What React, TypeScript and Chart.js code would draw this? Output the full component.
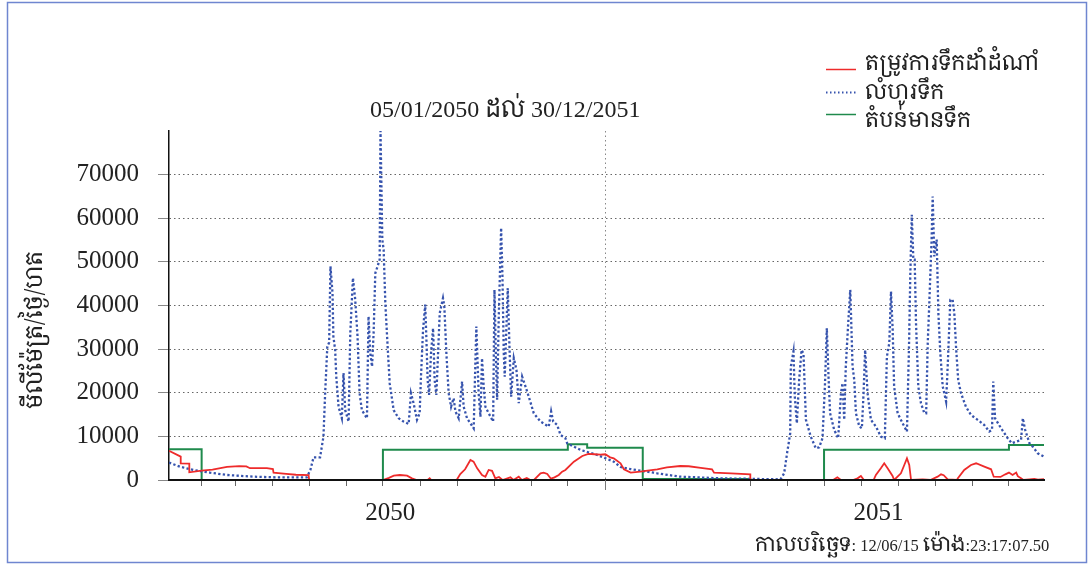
import React, { useEffect, useRef } from "react";
import { Chart, registerables } from "chart.js";

Chart.register(...registerables);

// ---- data (day offsets from 05/01/2050) ----
const demandDays = [
  0, 9.7, 9.7, 16.8, 16.8, 27, 36, 48, 58, 64, 67, 81, 86, 86.5, 97, 105, 115.5, 116,
  177, 182, 186, 191, 197, 201, 205, 214, 215.7, 217, 238, 241, 245, 249.4, 252, 255, 259, 261.8,
  264.5, 267.3, 270, 273, 276, 282.5, 285, 289.4, 292, 296, 299, 302, 307.4, 310, 313, 316, 319,
  322.5, 325.3, 328, 335, 342, 347, 352, 357, 361, 365, 368, 373.6, 376.4, 382, 390, 396, 404,
  412, 423, 430, 440, 449.3, 451, 465, 481, 481,
  549.5, 553, 556, 566, 569.7, 572.5, 575, 583, 584.9, 589, 591.8, 594.6, 598.7, 600, 605.6,
  608.4, 610.6, 612.5, 614, 623.6, 630, 636, 638.8, 641, 644.3, 652, 652.6, 658, 663.6, 667.8,
  674.6, 680.2, 682.4, 688, 692, 695, 698, 701, 702.3, 705, 707, 712, 716, 719, 724,
];
const demandValues = [
  6700, 5350, 3830, 3750, 1760, 2140, 2400, 3000, 3200, 3100, 2700, 2700, 2500, 1700, 1400, 1200, 1100, 0,
  0, 500, 990, 1140, 990, 380, 0, 0, 380, 0, 0, 1380, 2450, 4590, 4200, 2680, 1150, 760,
  2300, 2100, 380, 700, 0, 610, 0, 760, 0, 450, 0, 0, 1530, 1680, 1380, 300, 600,
  1150, 1900, 2300, 4200, 5510, 6000, 5900, 5800, 5900, 5200, 4970, 3830, 2450, 1680, 1900, 2150, 2450,
  2900, 3210, 3150, 2800, 2450, 1680, 1500, 1300, 0,
  0, 610, 0, 0, 380, 920, 0, 0, 1150, 2680, 3830, 2680, 920, 0, 1530,
  3440, 4970, 3440, 0, 150, 0, 760, 1300, 1100, 150, 0, 380, 2300, 3440, 3830,
  3060, 2450, 760, 700, 1300, 1700, 1150, 1700, 880, 380, 0, 150, 250, 100, 200,
];

const flowDays = [
  0, 9, 20, 34, 48, 70, 89, 114, 117, 119.6, 125, 127.8, 129.2, 131, 132.5, 133.6, 135.3, 136,
  137.5, 138.4, 140.3, 143, 144.4, 145.8, 148.6, 150, 152.2, 154.1, 156, 157.7, 159.6, 163.8, 165.1,
  166.5, 168, 169.3, 170.7, 172.6, 174.3, 175, 176.5, 177.6, 179, 180.9, 182.6, 185.9, 190, 194,
  198.3, 200.2, 202.4, 205.2, 207.4, 208.5, 210.2, 212, 213, 214, 215.2, 216.8, 218.5, 219.8, 221.2,
  222.3, 224, 226.7, 227.8, 229.5, 231.4, 233.4, 235.5, 237, 239.7, 242.5, 243.8, 246.6, 252.1,
  253.5, 254.3, 256.2, 257.7, 259, 260.4, 261.8, 264.5, 268.2, 269.3, 270.4, 271.5, 272.8, 274.8,
  275.9, 277, 277.8, 279.2, 280.3, 281.7, 283.1, 285.3, 287.5, 289.4, 292.2, 295, 297.7, 301.8,
  307.4, 314.2, 316.2, 317.9, 321.2, 324, 328, 329.5, 340.5, 354.3, 368, 373.6, 382, 390, 401, 404,
  423, 429, 456.5, 506, 509, 511.8, 512.3, 514, 514.5, 516.7, 517.8, 519.5, 521.4, 523.4, 525,
  527, 531, 535.2, 538, 540.7, 542.7, 544.3, 545.7, 547, 550.4, 553.7, 556, 557.3, 558.7, 560,
  562, 563.7, 565.6, 567, 568.4, 571.2, 573.3, 574.7, 576, 578, 580.8, 585, 589, 592.3, 594, 596,
  597.4, 598.8, 600, 602.9, 607, 610.6, 612.3, 613.4, 614.6, 615.9, 617, 618.1, 620, 622.2, 625,
  626.5, 627.8, 629, 631, 631.9, 633.2, 635.2, 636.6, 638.2, 640.2, 641.5, 643, 644.3, 646.5,
  648.4, 649.8, 651.2, 653, 655.3, 659.4, 663.6, 669.1, 674.6, 678.7, 681, 682, 683.5, 688.5, 694,
  697.3, 700.9, 705, 706.5, 708.4, 712, 714.7, 718.8, 724,
];
const flowValues = [
  3980, 3060, 2300, 1680, 1150, 760, 610, 610, 2300, 5200, 5200, 9950, 19900, 30600, 31500, 48960, 42850, 32900,
  29800, 23700, 16800, 14150, 24500, 16000, 13400, 33700, 46300, 41300, 32900, 19900, 16000, 14150, 37500,
  29100, 26000, 33700, 47400, 49000, 50500, 80000, 55100, 52800, 40550, 30600, 22200, 16000, 14150, 13400,
  12850, 19900, 17600, 13800, 15300, 23700, 34400, 40200, 32100, 22950, 19500, 29100, 34800, 22950, 19500,
  26800, 38250, 41700, 39800, 29100, 19900, 16800, 18750, 15700, 14150, 22550, 16800, 14150, 11850,
  26800, 35200, 19900, 14500, 27900, 21400, 16800, 15300, 13400, 43600, 29100, 18400, 36700, 57800,
  46700, 29100, 23700, 35200, 44000, 30600, 19100, 27900, 25250, 17600, 23700, 21400, 19100, 15300,
  13400, 12230, 15700, 13400, 12600, 10300, 9570, 8400, 6900, 5740, 4200, 3000, 2500, 2140, 1680, 1530,
  760, 700, 380, 150, 1530, 6900, 7650, 10700, 26000, 29450, 19100, 13000, 22950, 29800, 29000,
  13800, 9950, 7270, 7500, 9570, 21400, 34800, 23700, 15300, 11500, 9570, 19900, 22200, 13800, 26000,
  35950, 43600, 26000, 22950, 15300, 12230, 11850, 19900, 29800, 19900, 13800, 12230, 9950, 9570, 28300, 31400,
  43200, 34400, 21400, 15300, 13000, 11100, 30600, 47400, 60800, 50500, 50500, 35950, 21400, 17600, 15300,
  15300, 31400, 39800, 55100, 65000, 51250, 55100, 38250, 29100, 21400, 19900, 17970, 26000, 41300,
  41300, 38250, 30600, 22950, 19900, 16800, 14900, 13800, 12600, 11100, 11500, 22550, 14150, 11850, 9570,
  8420, 8800, 9180, 14150, 11500, 8420, 7650, 6130, 5350,
];

const areaDays = [0, 27, 177, 330, 346, 392, 481, 542, 695, 724];
const areaValues = [7050, 0, 6960, 8190, 7420, 250, 0, 6960, 8030, 8030];

const seriesLabels = ["តម្រូវការទឹកដាំដំណាំ", "លំហូរទឹក", "តំបន់មានទឹក"];
const seriesColors = ["#ee2b2b", "#3653ad", "#1f8a4c"];

const monthTickDays = [27, 55, 86, 116, 147, 177, 208, 239, 269, 300, 330, 361, 392, 420, 451, 481, 512, 542, 573, 604, 634, 665, 695];
const yearLabels = ["2050", "2051"];
const yearLabelDays = [183, 587];
const yearBoundaryDay = 361;
const dayMax = 724;

const yMax = 80000;
const yStep = 10000;

const titleParts = ["05/01/2050 ", "ដល់", " 30/12/2051"];
const yTitle = "មីលីម៉ែត្រ/ថ្ងៃ/ហត";
const footerParts = ["កាលបរិច្ឆេទ", ": 12/06/15 ", "ម៉ោង", ":23:17:07.50"];

const SERIF = "'Liberation Serif', 'DejaVu Serif', serif";
const KHMER = "'Noto Serif Khmer', 'Khmer OS', 'Noto Sans Khmer', 'Khmer OS System', serif";

function pts(days: number[], vals: number[]) {
  return days.map((d, i) => ({ x: d, y: vals[i] }));
}

function drawParts(ctx: CanvasRenderingContext2D, parts: { t: string; f: string }[], x: number, y: number) {
  let cx = x;
  for (const p of parts) {
    ctx.font = p.f;
    ctx.fillText(p.t, cx, y);
    cx += ctx.measureText(p.t).width;
  }
}

const decorPlugin = {
  id: "decor",
  afterDraw(chart: any) {
    const ctx: CanvasRenderingContext2D = chart.ctx;
    ctx.save();
    // frame
    ctx.strokeStyle = "#6f86d0";
    ctx.lineWidth = 1.5;
    ctx.strokeRect(7.5, 2.5, 1079, 560);

    // year boundary long tick
    const xs = chart.scales.x;
    const px = Math.round(xs.getPixelForValue(yearBoundaryDay)) + 0.5;
    ctx.strokeStyle = "#777";
    ctx.lineWidth = 1;
    ctx.beginPath();
    ctx.moveTo(px, chart.chartArea.bottom);
    ctx.lineTo(px, chart.chartArea.bottom + 10);
    ctx.stroke();

    ctx.fillStyle = "#222";
    ctx.textBaseline = "alphabetic";
    ctx.textAlign = "left";
    // title
    drawParts(ctx, [
      { t: titleParts[0], f: `24px ${SERIF}` },
      { t: titleParts[1], f: `24px ${KHMER}` },
      { t: titleParts[2], f: `24px ${SERIF}` },
    ], 370, 117);

    // footer
    drawParts(ctx, [
      { t: footerParts[0], f: `21px ${KHMER}` },
      { t: footerParts[1], f: `16.5px ${SERIF}` },
      { t: footerParts[2], f: `21px ${KHMER}` },
      { t: footerParts[3], f: `16.5px ${SERIF}` },
    ], 755, 551);

    // y title
    ctx.save();
    ctx.translate(35, 330);
    ctx.rotate(-Math.PI / 2);
    ctx.textAlign = "center";
    ctx.textBaseline = "middle";
    ctx.font = `23px ${KHMER}`;
    ctx.fillText(yTitle, 0, 0);
    ctx.restore();

    // legend
    const rows = [69, 92, 114];
    const textRows = [70, 99, 127];
    chart.data.datasets.forEach((ds: any, i: number) => {
      const y = rows[i] + 0.5;
      ctx.strokeStyle = ds.borderColor;
      ctx.lineWidth = ds.borderDash && ds.borderDash.length ? 2 : 1.5;
      ctx.setLineDash(ds.borderDash && ds.borderDash.length ? [1.5, 2.5] : []);
      ctx.beginPath();
      ctx.moveTo(826, y);
      ctx.lineTo(856, y);
      ctx.stroke();
      ctx.setLineDash([]);
      ctx.fillStyle = "#222";
      ctx.font = `22px ${KHMER}`;
      ctx.textBaseline = "alphabetic";
      ctx.fillText(ds.label, 865, textRows[i]);
    });
    ctx.restore();
  },
};

export default function App() {
  const ref = useRef<HTMLCanvasElement>(null);
  useEffect(() => {
    const canvas = ref.current;
    if (!canvas) return;
    const chart = new Chart(canvas, {
      type: "line",
      data: {
        datasets: [
          {
            label: seriesLabels[0],
            data: pts(demandDays, demandValues),
            borderColor: seriesColors[0],
            borderWidth: 1.8,
            pointRadius: 0,
            tension: 0,
            fill: false,
          },
          {
            label: seriesLabels[1],
            data: pts(flowDays, flowValues),
            borderColor: seriesColors[1],
            borderWidth: 2.3,
            borderDash: [2.3, 2.3],
            pointRadius: 0,
            tension: 0,
            fill: false,
          },
          {
            label: seriesLabels[2],
            data: pts(areaDays, areaValues),
            borderColor: seriesColors[2],
            borderWidth: 2,
            stepped: "before",
            pointRadius: 0,
            fill: false,
          },
        ],
      },
      options: {
        animation: false,
        responsive: false,
        devicePixelRatio: 1,
        parsing: false,
        layout: { padding: { top: 131, right: 46, left: 0, bottom: 0 } },
        plugins: { legend: { display: false }, title: { display: false }, tooltip: { enabled: false } },
        scales: {
          x: {
            type: "linear",
            min: 0,
            max: dayMax,
            afterFit: (s: any) => { s.height = 87; },
            afterBuildTicks: (s: any) => {
              s.ticks = [...monthTickDays, ...yearLabelDays].sort((a, b) => a - b).map((v) => ({ value: v }));
            },
            ticks: {
              autoSkip: false,
              maxRotation: 0,
              minRotation: 0,
              padding: 12,
              color: "#222",
              font: { family: SERIF, size: 25 },
              callback: (v: any) => {
                const i = yearLabelDays.indexOf(Number(v));
                return i >= 0 ? yearLabels[i] : "";
              },
            },
            grid: {
              drawOnChartArea: true,
              tickLength: 6,
              lineWidth: 1,
              color: (c: any) => (c.tick && c.tick.value === yearBoundaryDay ? "#888" : "rgba(0,0,0,0)"),
              tickColor: (c: any) => (c.tick && yearLabelDays.includes(c.tick.value) ? "rgba(0,0,0,0)" : "#666"),
            },
            border: { display: true, color: "#111", width: 2, z: 1, dash: [1.5, 3] },
          },
          y: {
            type: "linear",
            min: 0,
            max: yMax,
            afterFit: (s: any) => { s.width = 169; },
            ticks: {
              stepSize: yStep,
              padding: 19,
              color: "#222",
              font: { family: SERIF, size: 25 },
              callback: (v: any) => (Number(v) === yMax ? "" : String(v)),
            },
            grid: {
              tickLength: 11,
              lineWidth: 1,
              color: (c: any) => (c.tick && c.tick.value > 0 && c.tick.value < yMax ? "#666" : "rgba(0,0,0,0)"),
              tickColor: (c: any) => (c.tick && c.tick.value === yMax ? "rgba(0,0,0,0)" : "#888"),
            },
            border: { display: true, color: "#111", width: 1.5, dash: [1.5, 3] },
          },
        },
      },
      plugins: [decorPlugin],
    } as any);
    return () => chart.destroy();
  }, []);
  return (
    <div style={{ position: "absolute", left: 0, top: 0, width: 1090, height: 567, background: "#fff" }}>
      <canvas ref={ref} width={1090} height={567} style={{ display: "block", width: 1090, height: 567 }} />
    </div>
  );
}
